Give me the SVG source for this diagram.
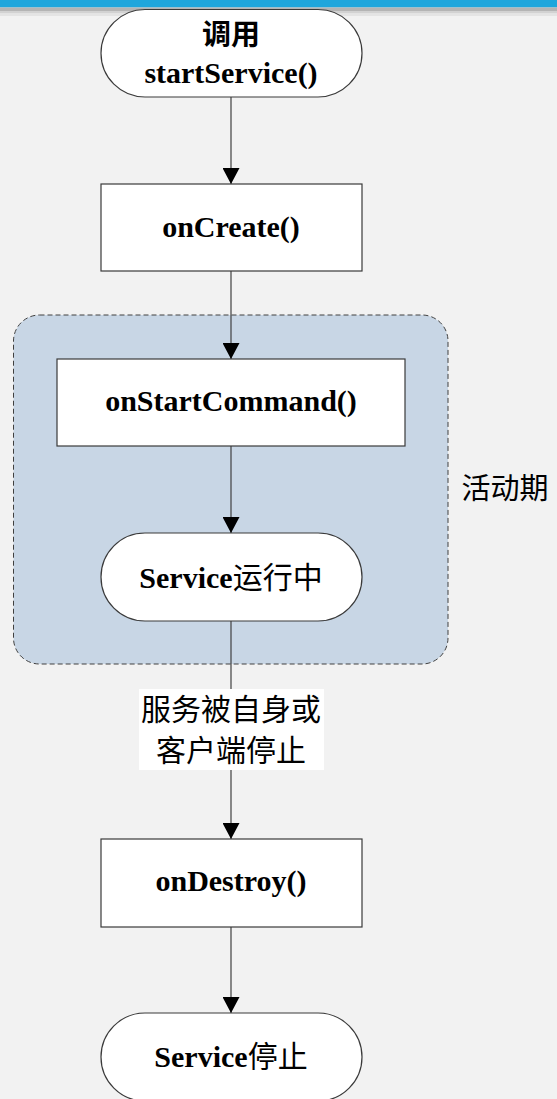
<svg xmlns="http://www.w3.org/2000/svg" width="557" height="1099" viewBox="0 0 557 1099">
<defs>
<style>
.node{fill:#ffffff;stroke:#3a3a3a;stroke-width:1.2}
.lbl{font-family:"Liberation Serif","Noto Sans CJK SC",serif;font-weight:bold;font-size:30px;fill:#000;text-anchor:middle}
.cjk{font-family:"Noto Sans CJK SC","Noto Sans CJK JP",sans-serif;font-weight:normal}
.cjkt{font-family:"Noto Sans CJK SC","Noto Sans CJK JP",sans-serif;font-size:29px;fill:#000;text-anchor:middle}
.edge{stroke:#404040;stroke-width:1.2;fill:none}
</style>
<marker id="arr" markerWidth="16" markerHeight="17" refX="16" refY="8.5" orient="auto" markerUnits="userSpaceOnUse">
<path d="M0,0 L16,8.5 L0,17 Z" fill="#000"/>
</marker>
</defs>
<rect width="557" height="1099" fill="#f2f2f2"/>
<g id="header">
<rect x="0" y="0" width="557" height="7.5" fill="#1fa6dc"/>
<rect x="0" y="7.5" width="557" height="3.5" fill="#b4b4b4"/>
<rect x="0" y="11" width="557" height="2.5" fill="#d2d2d2"/>
<rect x="0" y="13.5" width="557" height="2.5" fill="#e4e4e4"/>
</g>
<g id="active-period">
<rect x="13.5" y="315" width="434.5" height="349" rx="26" ry="26" fill="#c8d6e5" stroke="#404040" stroke-width="1" stroke-dasharray="5,3"/>
<text class="cjkt" x="505" y="499">活动期</text>
</g>
<g id="connectors">
<line class="edge" x1="231" y1="97" x2="231" y2="184" marker-end="url(#arr)"/>
<line class="edge" x1="231" y1="271" x2="231" y2="359" marker-end="url(#arr)"/>
<line class="edge" x1="231" y1="446" x2="231" y2="533" marker-end="url(#arr)"/>
<line class="edge" x1="231" y1="621" x2="231" y2="839" marker-end="url(#arr)"/>
<line class="edge" x1="231" y1="927" x2="231" y2="1013" marker-end="url(#arr)"/>
<g id="edge-label">
<rect x="139" y="689" width="185" height="81" fill="#ffffff"/>
<text class="cjkt" x="231" y="720" style="font-size:30px">服务被自身或</text>
<text class="cjkt" x="231" y="761" style="font-size:30px">客户端停止</text>
</g>
</g>
<g id="start">
<rect class="node" x="101" y="9.5" width="261" height="87.5" rx="44" ry="44"/>
<text class="cjkt" x="231" y="45" style="font-weight:bold">调用</text>
<text class="lbl" x="231" y="83">startService()</text>
</g>
<g id="onCreate">
<rect class="node" x="101" y="184" width="261" height="87"/>
<text class="lbl" x="231" y="237">onCreate()</text>
</g>
<g id="onStartCommand">
<rect class="node" x="57" y="359" width="348" height="87"/>
<text class="lbl" x="231" y="411">onStartCommand()</text>
</g>
<g id="running">
<rect class="node" x="101" y="533" width="261" height="88" rx="44" ry="44"/>
<text class="lbl" x="231" y="588">Service<tspan class="cjk">运行中</tspan></text>
</g>
<g id="onDestroy">
<rect class="node" x="101" y="839" width="261" height="88"/>
<text class="lbl" x="231" y="891">onDestroy()</text>
</g>
<g id="stopped">
<rect class="node" x="101" y="1013" width="261" height="88" rx="44" ry="44"/>
<text class="lbl" x="231" y="1067">Service<tspan class="cjk">停止</tspan></text>
</g>
</svg>
